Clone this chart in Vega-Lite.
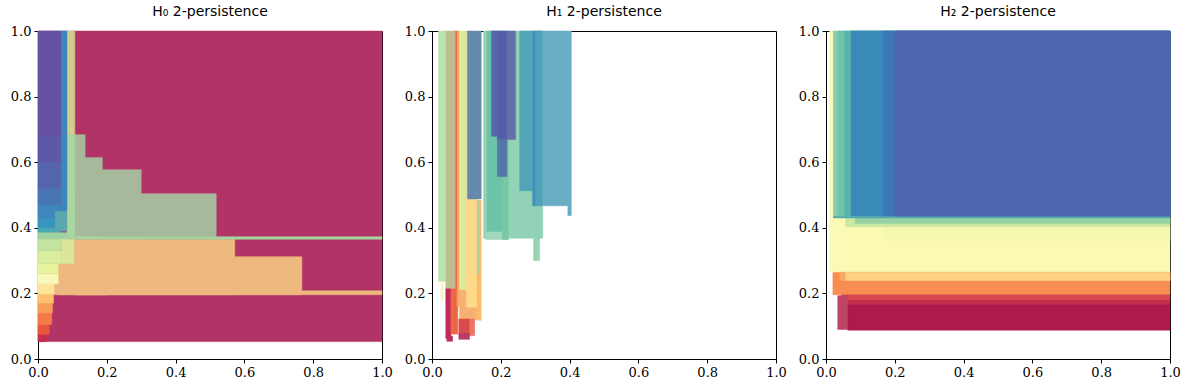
{
  "$schema": "https://vega.github.io/schema/vega-lite/v6.json",
  "padding": {"left": 9, "top": 4, "right": 5, "bottom": 5},
  "background": "white",
  "spacing": 10,
  "config": {
    "view": {"stroke": "#000", "strokeWidth": 1},
    "axis": {"grid": false, "domainColor": "#000", "tickColor": "#000", "labelColor": "#000", "labelFont": "DejaVu Serif", "labelFontSize": 13, "tickSize": 4, "labelPadding": 3, "title": null, "labelFlush": false, "labelOverlap": false, "labelBound": false},
    "title": {"font": "DejaVu Sans", "fontSize": 14, "fontWeight": "normal", "color": "#000", "offset": 6}
  },
  "datasets": {
    "p0": [
      {"x": 0, "x2": 1, "y": 0.053, "y2": 1, "k": "c1"},
      {"x": 0.105, "x2": 1, "y": 0.196, "y2": 0.208, "k": "or"},
      {"x": 0.105, "x2": 0.767, "y": 0.196, "y2": 0.312, "k": "or"},
      {"x": 0.105, "x2": 0.572, "y": 0.196, "y2": 0.365, "k": "or"},
      {"x": 0.059, "x2": 0.2, "y": 0.196, "y2": 0.29, "k": "or"},
      {"x": 0.047, "x2": 0.2, "y": 0.196, "y2": 0.23, "k": "or"},
      {"x": 0.107, "x2": 0.518, "y": 0.373, "y2": 0.504, "k": "gg"},
      {"x": 0.107, "x2": 0.3, "y": 0.373, "y2": 0.577, "k": "gg"},
      {"x": 0.107, "x2": 0.187, "y": 0.373, "y2": 0.614, "k": "gg"},
      {"x": 0.107, "x2": 0.137, "y": 0.373, "y2": 0.684, "k": "gg"},
      {"x": 0.04, "x2": 1, "y": 0.365, "y2": 0.373, "k": "ls"},
      {"x": 0.084, "x2": 0.107, "y": 0.684, "y2": 1, "k": "tan"},
      {"x": 0.084, "x2": 0.107, "y": 0.373, "y2": 0.684, "k": "lg"},
      {"x": 0.066, "x2": 0.084, "y": 0.45, "y2": 1, "k": "bl"},
      {"x": 0, "x2": 0.066, "y": 0.68, "y2": 1, "k": "pu1"},
      {"x": 0, "x2": 0.066, "y": 0.6, "y2": 0.68, "k": "pu2"},
      {"x": 0, "x2": 0.066, "y": 0.52, "y2": 0.6, "k": "pu3"},
      {"x": 0, "x2": 0.066, "y": 0.47, "y2": 0.52, "k": "pu4"},
      {"x": 0, "x2": 0.066, "y": 0.43, "y2": 0.47, "k": "pu5"},
      {"x": 0, "x2": 0.066, "y": 0.4, "y2": 0.43, "k": "pu6"},
      {"x": 0, "x2": 0.066, "y": 0.385, "y2": 0.4, "k": "te"},
      {"x": 0, "x2": 0.084, "y": 0.365, "y2": 0.385, "k": "tg"},
      {"x": 0.05, "x2": 0.084, "y": 0.39, "y2": 0.45, "k": "tb"},
      {"x": 0.069, "x2": 0.105, "y": 0.29, "y2": 0.365, "k": "yg"},
      {"x": 0, "x2": 0.025, "y": 0.053, "y2": 0.075, "k": "g1"},
      {"x": 0, "x2": 0.033, "y": 0.075, "y2": 0.105, "k": "g2"},
      {"x": 0, "x2": 0.04, "y": 0.105, "y2": 0.14, "k": "g3"},
      {"x": 0, "x2": 0.042, "y": 0.14, "y2": 0.17, "k": "g4"},
      {"x": 0, "x2": 0.045, "y": 0.17, "y2": 0.198, "k": "g5"},
      {"x": 0, "x2": 0.047, "y": 0.198, "y2": 0.229, "k": "g6"},
      {"x": 0, "x2": 0.059, "y": 0.229, "y2": 0.26, "k": "g7"},
      {"x": 0, "x2": 0.059, "y": 0.26, "y2": 0.29, "k": "g8"},
      {"x": 0, "x2": 0.069, "y": 0.29, "y2": 0.33, "k": "g9"},
      {"x": 0, "x2": 0.069, "y": 0.33, "y2": 0.365, "k": "g10"}
    ],
    "p1": [
      {"x": 0.019, "x2": 0.04, "y": 0.237, "y2": 1, "k": "lg"},
      {"x": 0.027, "x2": 0.032, "y": 0.178, "y2": 0.237, "k": "py"},
      {"x": 0.04, "x2": 0.069, "y": 0.214, "y2": 1, "k": "ol"},
      {"x": 0.04, "x2": 0.055, "y": 0.063, "y2": 0.214, "k": "cr"},
      {"x": 0.043, "x2": 0.06, "y": 0.054, "y2": 0.07, "k": "cr2"},
      {"x": 0.055, "x2": 0.075, "y": 0.076, "y2": 0.214, "k": "ro"},
      {"x": 0.069, "x2": 0.073, "y": 0.214, "y2": 1, "k": "rl"},
      {"x": 0.073, "x2": 0.08, "y": 0.16, "y2": 1, "k": "or"},
      {"x": 0.08, "x2": 0.103, "y": 0.21, "y2": 1, "k": "yg"},
      {"x": 0.08, "x2": 0.131, "y": 0.12, "y2": 0.21, "k": "lo"},
      {"x": 0.1, "x2": 0.131, "y": 0.158, "y2": 0.488, "k": "ye"},
      {"x": 0.131, "x2": 0.143, "y": 0.118, "y2": 0.483, "k": "o2"},
      {"x": 0.078, "x2": 0.11, "y": 0.073, "y2": 0.122, "k": "rd"},
      {"x": 0.11, "x2": 0.124, "y": 0.071, "y2": 0.122, "k": "co"},
      {"x": 0.078, "x2": 0.109, "y": 0.06, "y2": 0.078, "k": "cr3"},
      {"x": 0.103, "x2": 0.143, "y": 0.488, "y2": 1, "k": "sb"},
      {"x": 0.132, "x2": 0.136, "y": 0.26, "y2": 0.483, "k": "lgl"},
      {"x": 0.15, "x2": 0.322, "y": 0.368, "y2": 1, "k": "lm"},
      {"x": 0.156, "x2": 0.221, "y": 0.364, "y2": 0.39, "k": "lm2"},
      {"x": 0.16, "x2": 0.205, "y": 0.389, "y2": 1, "k": "mi"},
      {"x": 0.205, "x2": 0.222, "y": 0.364, "y2": 0.67, "k": "mi2"},
      {"x": 0.295, "x2": 0.313, "y": 0.3, "y2": 0.37, "k": "lm3"},
      {"x": 0.255, "x2": 0.293, "y": 0.513, "y2": 1, "k": "te"},
      {"x": 0.293, "x2": 0.405, "y": 0.467, "y2": 1, "k": "lt"},
      {"x": 0.299, "x2": 0.32, "y": 0.467, "y2": 1, "k": "te2"},
      {"x": 0.293, "x2": 0.299, "y": 0.467, "y2": 1, "k": "bl"},
      {"x": 0.395, "x2": 0.405, "y": 0.437, "y2": 0.467, "k": "lt"},
      {"x": 0.173, "x2": 0.19, "y": 0.679, "y2": 1, "k": "in1"},
      {"x": 0.19, "x2": 0.218, "y": 0.669, "y2": 1, "k": "in2"},
      {"x": 0.218, "x2": 0.243, "y": 0.669, "y2": 1, "k": "in3"},
      {"x": 0.19, "x2": 0.218, "y": 0.556, "y2": 0.669, "k": "in4"}
    ],
    "p2": [
      {"x": 0.02, "x2": 1, "y": 0.264, "y2": 0.436, "k": "py"},
      {"x": 0.168, "x2": 1, "y": 0.36, "y2": 0.403, "k": "pyg"},
      {"x": 0.057, "x2": 1, "y": 0.403, "y2": 0.413, "k": "pg"},
      {"x": 0.057, "x2": 1, "y": 0.413, "y2": 0.43, "k": "pg"},
      {"x": 0.085, "x2": 1, "y": 0.413, "y2": 0.43, "k": "lgr"},
      {"x": 0.02, "x2": 1, "y": 0.43, "y2": 0.436, "k": "tl"},
      {"x": 0.02, "x2": 1, "y": 0.436, "y2": 1, "k": "m2"},
      {"x": 0.034, "x2": 1, "y": 0.436, "y2": 1, "k": "m1"},
      {"x": 0.055, "x2": 1, "y": 0.436, "y2": 1, "k": "t1"},
      {"x": 0.073, "x2": 1, "y": 0.436, "y2": 1, "k": "b3"},
      {"x": 0.166, "x2": 1, "y": 0.436, "y2": 1, "k": "b2"},
      {"x": 0.2, "x2": 1, "y": 0.436, "y2": 1, "k": "in"},
      {"x": 0.011, "x2": 0.02, "y": 0.267, "y2": 1, "k": "pys"},
      {"x": 0.02, "x2": 1, "y": 0.196, "y2": 0.264, "k": "or"},
      {"x": 0.04, "x2": 1, "y": 0.239, "y2": 0.264, "k": "lo2"},
      {"x": 0.057, "x2": 1, "y": 0.239, "y2": 0.264, "k": "lo"},
      {"x": 0.045, "x2": 1, "y": 0.181, "y2": 0.196, "k": "rd"},
      {"x": 0.034, "x2": 0.063, "y": 0.09, "y2": 0.193, "k": "pk"},
      {"x": 0.063, "x2": 1, "y": 0.166, "y2": 0.181, "k": "cr"},
      {"x": 0.063, "x2": 1, "y": 0.088, "y2": 0.166, "k": "cr2"}
    ]
  },
  "resolve": {"scale": {"color": "independent", "stroke": "independent"}},
  "hconcat": [
    {
      "title": "H₀ 2-persistence",
      "width": 344, "height": 328,
      "data": {"name": "p0"},
      "mark": {"type": "rect", "strokeWidth": 0.5},
      "encoding": {
        "x": {"field": "x", "type": "quantitative", "scale": {"domain": [0, 1], "nice": false, "zero": false}, "axis": {"values": [0, 0.2, 0.4, 0.6, 0.8, 1], "format": ".1f"}},
        "x2": {"field": "x2"},
        "y": {"field": "y", "type": "quantitative", "scale": {"domain": [0, 1], "nice": false, "zero": false}, "axis": {"values": [0, 0.2, 0.4, 0.6, 0.8, 1], "format": ".1f"}},
        "y2": {"field": "y2"},
        "color": {"field": "k", "type": "nominal", "legend": null, "scale": {
          "domain": ["c1", "or", "gg", "ls", "tan", "lg", "bl", "pu1", "pu2", "pu3", "pu4", "pu5", "pu6", "te", "tg", "tb", "yg", "g1", "g2", "g3", "g4", "g5", "g6", "g7", "g8", "g9", "g10"],
          "range": ["#b23467", "#eeb87f", "#a8b89a", "#a6d49e", "#d2cc8e", "#a8d8a0", "#3a86bd", "#6551a2", "#5f58a6", "#5565ad", "#4a75b5", "#3f86bd", "#3895c0", "#48a8b4", "#9fd4a2", "#5aa8ae", "#dde59a", "#c62d4f", "#e8553f", "#f47a48", "#f99c5a", "#fdc06d", "#fee49a", "#f8f8b8", "#e8f39e", "#d8ee9e", "#c2e4a0"]}},
        "stroke": {"field": "k", "type": "nominal", "legend": null, "scale": {
          "domain": ["c1", "or", "gg", "ls", "tan", "lg", "bl", "pu1", "pu2", "pu3", "pu4", "pu5", "pu6", "te", "tg", "tb", "yg", "g1", "g2", "g3", "g4", "g5", "g6", "g7", "g8", "g9", "g10"],
          "range": ["#b23467", "#eeb87f", "#a8b89a", "#a6d49e", "#d2cc8e", "#a8d8a0", "#3a86bd", "#6551a2", "#5f58a6", "#5565ad", "#4a75b5", "#3f86bd", "#3895c0", "#48a8b4", "#9fd4a2", "#5aa8ae", "#dde59a", "#c62d4f", "#e8553f", "#f47a48", "#f99c5a", "#fdc06d", "#fee49a", "#f8f8b8", "#e8f39e", "#d8ee9e", "#c2e4a0"]}}
      }
    },
    {
      "title": "H₁ 2-persistence",
      "width": 344, "height": 328,
      "data": {"name": "p1"},
      "mark": {"type": "rect", "strokeWidth": 0.5},
      "encoding": {
        "x": {"field": "x", "type": "quantitative", "scale": {"domain": [0, 1], "nice": false, "zero": false}, "axis": {"values": [0, 0.2, 0.4, 0.6, 0.8, 1], "format": ".1f"}},
        "x2": {"field": "x2"},
        "y": {"field": "y", "type": "quantitative", "scale": {"domain": [0, 1], "nice": false, "zero": false}, "axis": {"values": [0, 0.2, 0.4, 0.6, 0.8, 1], "format": ".1f"}},
        "y2": {"field": "y2"},
        "color": {"field": "k", "type": "nominal", "legend": null, "scale": {
          "domain": ["lg", "py", "ol", "cr", "cr2", "ro", "rl", "or", "yg", "lo", "ye", "o2", "rd", "co", "cr3", "sb", "lgl", "lm", "lm2", "mi", "mi2", "lm3", "te", "lt", "te2", "bl", "in1", "in2", "in3", "in4"],
          "range": ["#bae3ae", "#fdf2b0", "#bebf90", "#c22a5a", "#b83060", "#ec6845", "#f05a40", "#f6a55e", "#dce99a", "#f8b070", "#fed98a", "#fdb96a", "#da4b4b", "#ec7565", "#b83d68", "#6589aa", "#a0d4a0", "#92d2b6", "#a0d8bc", "#6ec4a8", "#78c8a8", "#98d4b0", "#52a4b7", "#68adc4", "#4fa2b8", "#3f90bd", "#5a66ab", "#535ea8", "#6470ac", "#5577aa"]}},
        "stroke": {"field": "k", "type": "nominal", "legend": null, "scale": {
          "domain": ["lg", "py", "ol", "cr", "cr2", "ro", "rl", "or", "yg", "lo", "ye", "o2", "rd", "co", "cr3", "sb", "lgl", "lm", "lm2", "mi", "mi2", "lm3", "te", "lt", "te2", "bl", "in1", "in2", "in3", "in4"],
          "range": ["#bae3ae", "#fdf2b0", "#bebf90", "#c22a5a", "#b83060", "#ec6845", "#f05a40", "#f6a55e", "#dce99a", "#f8b070", "#fed98a", "#fdb96a", "#da4b4b", "#ec7565", "#b83d68", "#6589aa", "#a0d4a0", "#92d2b6", "#a0d8bc", "#6ec4a8", "#78c8a8", "#98d4b0", "#52a4b7", "#68adc4", "#4fa2b8", "#3f90bd", "#5a66ab", "#535ea8", "#6470ac", "#5577aa"]}}
      }
    },
    {
      "title": "H₂ 2-persistence",
      "width": 344, "height": 328,
      "data": {"name": "p2"},
      "mark": {"type": "rect", "strokeWidth": 0.5},
      "encoding": {
        "x": {"field": "x", "type": "quantitative", "scale": {"domain": [0, 1], "nice": false, "zero": false}, "axis": {"values": [0, 0.2, 0.4, 0.6, 0.8, 1], "format": ".1f"}},
        "x2": {"field": "x2"},
        "y": {"field": "y", "type": "quantitative", "scale": {"domain": [0, 1], "nice": false, "zero": false}, "axis": {"values": [0, 0.2, 0.4, 0.6, 0.8, 1], "format": ".1f"}},
        "y2": {"field": "y2"},
        "color": {"field": "k", "type": "nominal", "legend": null, "scale": {
          "domain": ["py", "pyg", "pg", "lgr", "tl", "in", "b2", "b3", "t1", "m1", "m2", "pys", "lo", "lo2", "or", "rd", "cr", "cr2", "pk"],
          "range": ["#fafab4", "#f4f8b0", "#cce9a0", "#96d2a2", "#55a8b4", "#4f66ae", "#3e77b6", "#3a8ab9", "#5bb1ad", "#70c4a8", "#88cca8", "#fbf8b8", "#fdd280", "#faa862", "#f88d52", "#d9474e", "#c62d4b", "#ae1a4c", "#c04468"]}},
        "stroke": {"field": "k", "type": "nominal", "legend": null, "scale": {
          "domain": ["py", "pyg", "pg", "lgr", "tl", "in", "b2", "b3", "t1", "m1", "m2", "pys", "lo", "lo2", "or", "rd", "cr", "cr2", "pk"],
          "range": ["#fafab4", "#f4f8b0", "#cce9a0", "#96d2a2", "#55a8b4", "#4f66ae", "#3e77b6", "#3a8ab9", "#5bb1ad", "#70c4a8", "#88cca8", "#fbf8b8", "#fdd280", "#faa862", "#f88d52", "#d9474e", "#c62d4b", "#ae1a4c", "#c04468"]}}
      }
    }
  ]
}
